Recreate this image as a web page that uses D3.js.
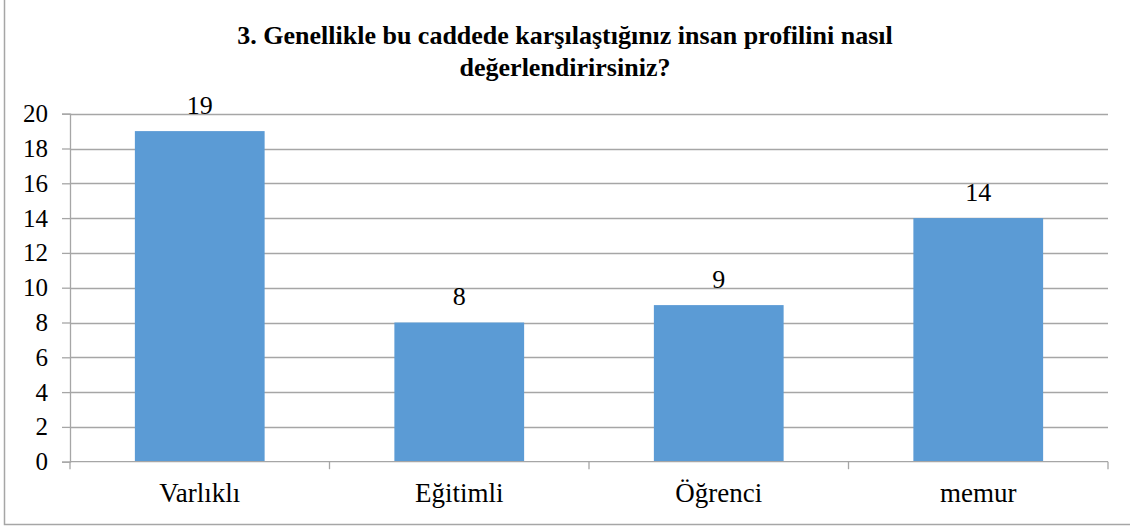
<!DOCTYPE html>
<html>
<head>
<meta charset="utf-8">
<script src="https://cdn.jsdelivr.net/npm/d3@7"></script>
<style>
  html, body { margin: 0; padding: 0; background: #fff; }
  svg { display: block; }
  svg text { fill: #000; }
</style>
</head>
<body>
<svg id="chart" width="1130" height="527"></svg>
<script>
// Survey answers: how respondents describe the people they meet on the street
const categories = ["Varlıklı", "Eğitimli", "Öğrenci", "memur"];
const counts = [19, 8, 9, 14];
const yTicks = [0, 2, 4, 6, 8, 10, 12, 14, 16, 18, 20];
const titleLines = [
  "3. Genellikle bu caddede karşılaştığınız insan profilini nasıl",
  "değerlendirirsiniz?"
];

const W = 1130, H = 527;
const FONT = "'Times New Roman', Times, Tinos, 'Liberation Serif', 'DejaVu Serif', serif";
const margin = { left: 70, right: 22, top: 113.7, bottom: 65.3 };
const svg = d3.select("#chart");

// outer chart frame
svg.append("rect")
  .attr("x", 4.5).attr("y", -5)
  .attr("width", W + 10).attr("height", 529.5)
  .attr("fill", "none")
  .attr("stroke", "#a6a6a6")
  .attr("stroke-width", 1.5);

const x = d3.scaleBand()
  .domain(categories)
  .range([margin.left, W - margin.right])
  .paddingInner(0.5)
  .paddingOuter(0.25);

const y = d3.scaleLinear()
  .domain([0, 20])
  .range([H - margin.bottom, margin.top]);

// title
svg.append("g")
  .selectAll("text")
  .data(titleLines)
  .join("text")
  .attr("x", 565)
  .attr("y", (d, i) => 44 + i * 32)
  .attr("text-anchor", "middle")
  .style("font-family", FONT)
  .attr("font-weight", "bold")
  .attr("font-size", 26)
  .text(d => d);

// horizontal gridlines
svg.append("g")
  .selectAll("line")
  .data(yTicks.filter(t => t > 0))
  .join("line")
  .attr("x1", margin.left).attr("x2", W - margin.right)
  .attr("y1", d => Math.round(y(d)) + 0.5)
  .attr("y2", d => Math.round(y(d)) + 0.5)
  .attr("stroke", "#a6a6a6")
  .attr("stroke-width", 1.3);

// y axis
const yAxis = svg.append("g")
  .attr("transform", `translate(${margin.left},0)`)
  .call(d3.axisLeft(y).tickValues(yTicks).tickSize(8).tickPadding(14).tickFormat(d3.format("d")));
yAxis.attr("font-size", 25);
yAxis.select(".domain").attr("stroke", "#a6a6a6").attr("stroke-width", 1.3);
yAxis.selectAll(".tick line").attr("stroke", "#a6a6a6").attr("stroke-width", 1.3);
yAxis.selectAll(".tick text").attr("fill", "#000").style("font-family", FONT);

// bars
svg.append("g")
  .selectAll("rect")
  .data(categories)
  .join("rect")
  .attr("x", d => x(d))
  .attr("width", x.bandwidth())
  .attr("y", (d, i) => y(counts[i]))
  .attr("height", (d, i) => y(0) - y(counts[i]))
  .attr("fill", "#5b9bd5");

// x axis with tick marks at category boundaries
const x0 = margin.left, x1 = W - margin.right;
const step = (x1 - x0) / categories.length;
const xAxis = svg.append("g");
xAxis.append("line")
  .attr("x1", x0).attr("x2", x1)
  .attr("y1", y(0)).attr("y2", y(0))
  .attr("stroke", "#a6a6a6").attr("stroke-width", 1.3);
xAxis.selectAll("line.b")
  .data(d3.range(categories.length + 1))
  .join("line")
  .attr("class", "b")
  .attr("x1", i => x0 + i * step).attr("x2", i => x0 + i * step)
  .attr("y1", y(0)).attr("y2", y(0) + 7.5)
  .attr("stroke", "#a6a6a6").attr("stroke-width", 1.3);

// category labels
svg.append("g")
  .selectAll("text")
  .data(categories)
  .join("text")
  .attr("x", d => x(d) + x.bandwidth() / 2)
  .attr("y", 502)
  .attr("text-anchor", "middle")
  .style("font-family", FONT)
  .attr("font-size", 27)
  .text(d => d);

// value labels above bars
svg.append("g")
  .selectAll("text")
  .data(categories)
  .join("text")
  .attr("x", d => x(d) + x.bandwidth() / 2)
  .attr("y", (d, i) => y(counts[i]) - 17.5)
  .attr("text-anchor", "middle")
  .style("font-family", FONT)
  .attr("font-size", 26)
  .text((d, i) => counts[i]);
</script>
</body>
</html>
